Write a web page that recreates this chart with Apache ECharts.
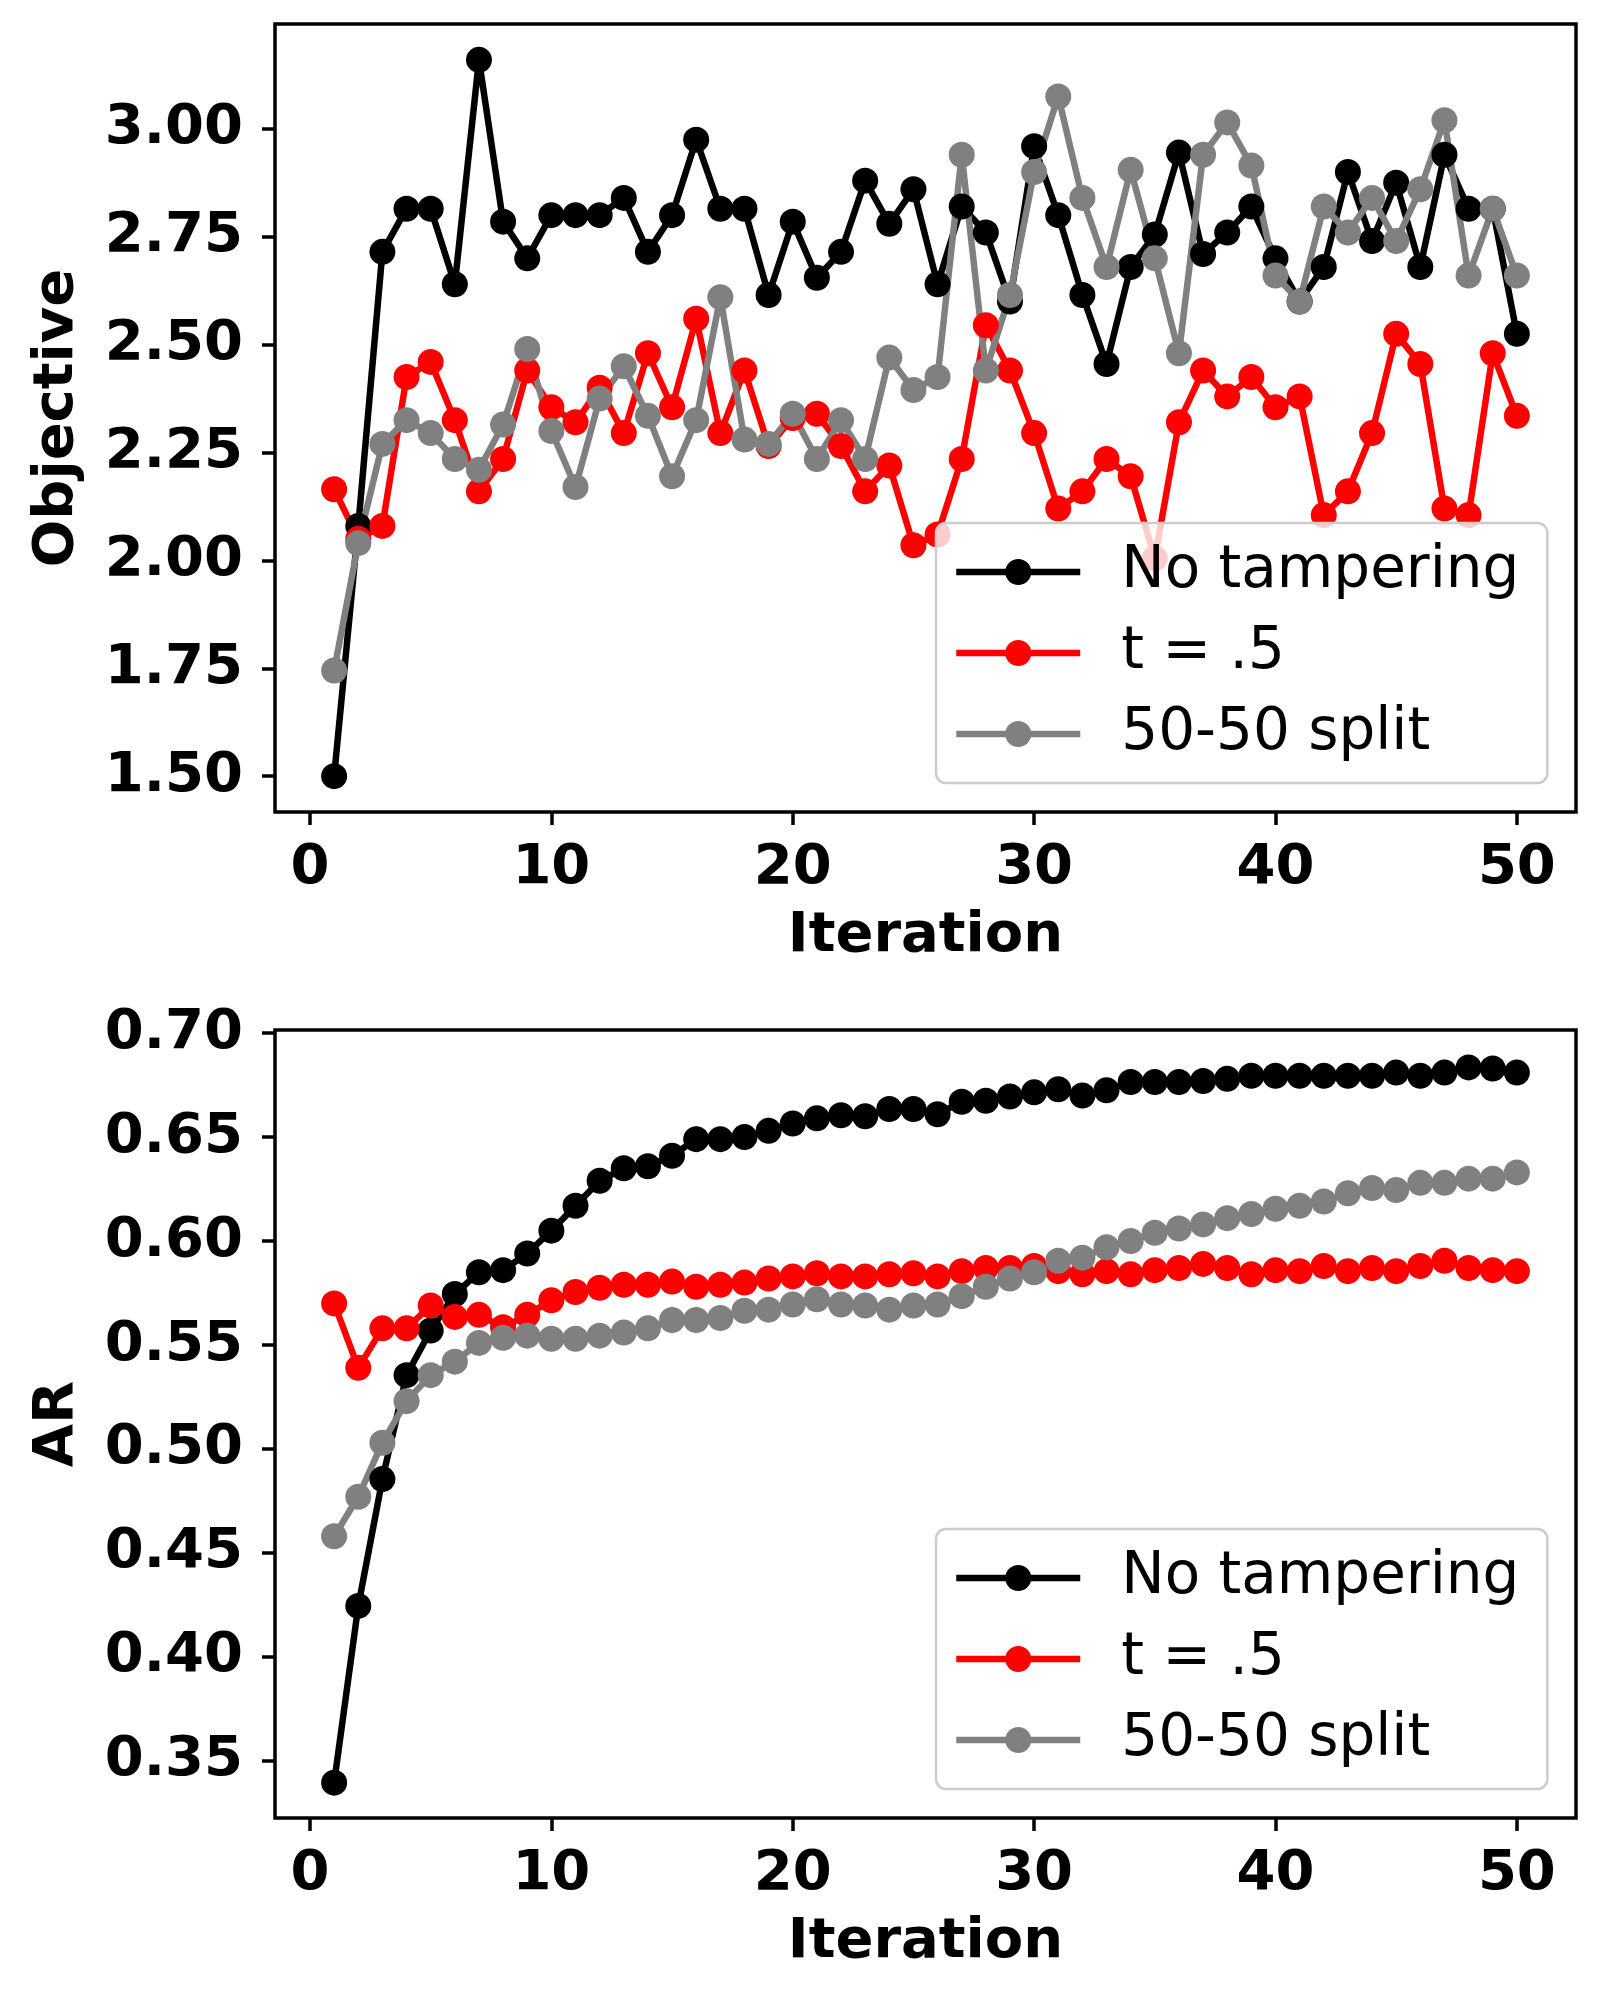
<!DOCTYPE html>
<html><head><meta charset="utf-8">
<script src="https://cdn.jsdelivr.net/npm/echarts@6/dist/echarts.min.js"></script>
<style>html,body{margin:0;padding:0;background:#fff}#c{width:1604px;height:1993px}</style>
</head><body><div id="c"></div>
<script>
const iterations = [1,2,3,4,5,6,7,8,9,10,11,12,13,14,15,16,17,18,19,20,21,22,23,24,25,26,27,28,29,30,31,32,33,34,35,36,37,38,39,40,41,42,43,44,45,46,47,48,49,50];

const seriesNames = ['No tampering', 't = .5', '50-50 split'];
const seriesColors = ['#000000', '#ff0000', '#808080'];

// Top panel: Objective
const objNoTampering = [1.50,2.08,2.715,2.815,2.815,2.64,3.16,2.785,2.70,2.80,2.80,2.80,2.84,2.715,2.80,2.975,2.815,2.815,2.615,2.785,2.655,2.715,2.88,2.78,2.86,2.64,2.82,2.76,2.60,2.96,2.80,2.615,2.455,2.68,2.755,2.945,2.71,2.76,2.82,2.70,2.60,2.68,2.90,2.74,2.875,2.68,2.94,2.815,2.815,2.525];
const objT05 = [2.165,2.05,2.08,2.425,2.46,2.325,2.16,2.235,2.44,2.355,2.32,2.40,2.295,2.48,2.355,2.56,2.295,2.44,2.265,2.33,2.34,2.265,2.16,2.22,2.035,2.06,2.235,2.545,2.44,2.295,2.12,2.16,2.235,2.195,2.005,2.32,2.44,2.38,2.425,2.355,2.38,2.105,2.16,2.295,2.525,2.455,2.12,2.105,2.48,2.335];
const objSplit = [1.745,2.04,2.27,2.325,2.295,2.235,2.21,2.315,2.49,2.30,2.17,2.375,2.45,2.335,2.195,2.325,2.61,2.28,2.27,2.34,2.235,2.325,2.235,2.47,2.395,2.425,2.94,2.44,2.615,2.90,3.075,2.84,2.68,2.905,2.70,2.48,2.94,3.015,2.915,2.66,2.60,2.82,2.76,2.84,2.74,2.86,3.02,2.66,2.815,2.66];

// Bottom panel: AR
const arNoTampering = [0.3395,0.4245,0.4855,0.5355,0.557,0.5745,0.585,0.586,0.594,0.605,0.617,0.629,0.635,0.636,0.641,0.649,0.649,0.650,0.653,0.6565,0.659,0.6605,0.660,0.6635,0.6635,0.661,0.667,0.6675,0.6695,0.6715,0.673,0.670,0.6725,0.6765,0.6765,0.6765,0.677,0.678,0.6795,0.6795,0.6795,0.6795,0.6795,0.6795,0.681,0.6795,0.681,0.6835,0.683,0.681];
const arT05 = [0.570,0.539,0.558,0.558,0.569,0.5635,0.5645,0.5585,0.5645,0.5715,0.5755,0.5775,0.579,0.579,0.5805,0.578,0.579,0.580,0.582,0.583,0.5845,0.583,0.583,0.584,0.5845,0.583,0.5855,0.587,0.587,0.588,0.5855,0.584,0.5855,0.584,0.586,0.587,0.589,0.587,0.584,0.586,0.5855,0.588,0.5855,0.587,0.5855,0.588,0.5905,0.587,0.586,0.5855];
const arSplit = [0.458,0.477,0.503,0.523,0.5355,0.542,0.551,0.5535,0.5545,0.553,0.553,0.5545,0.556,0.558,0.562,0.562,0.563,0.5665,0.567,0.5695,0.572,0.5695,0.569,0.567,0.569,0.5695,0.5735,0.578,0.582,0.585,0.5905,0.592,0.597,0.600,0.604,0.606,0.608,0.611,0.613,0.6155,0.617,0.619,0.623,0.6255,0.6245,0.628,0.628,0.630,0.630,0.633];

const xTicks = [0,10,20,30,40,50];
const objTicks = [1.50,1.75,2.00,2.25,2.50,2.75,3.00];
const arTicks = [0.35,0.40,0.45,0.50,0.55,0.60,0.65,0.70];

const FONT = 'DejaVu Sans';
const boldText = { fontFamily: FONT, fontWeight: 'bold', fontSize: 56, color: '#000' };

function xAxisCfg(gi) {
  return {
    type: 'value', gridIndex: gi, min: -1.45, max: 52.45,
    name: 'Iteration', nameLocation: 'middle', nameGap: 96,
    nameTextStyle: boldText,
    axisLine: { show: false, onZero: false },
    axisTick: { show: true, inside: false, length: 13, customValues: xTicks, lineStyle: { color: '#000', width: 3.5 } },
    axisLabel: Object.assign({ margin: 28, customValues: xTicks, formatter: v => String(v) }, boldText),
    splitLine: { show: false }
  };
}
function yAxisCfg(gi, name, ticks, mn, mx, gap) {
  return {
    type: 'value', gridIndex: gi, min: mn, max: mx,
    name: name, nameLocation: 'middle', nameGap: gap, nameRotate: 90,
    nameTextStyle: boldText,
    axisLine: { show: false, onZero: false },
    axisTick: { show: true, inside: false, length: 13, customValues: ticks, lineStyle: { color: '#000', width: 3.5 } },
    axisLabel: Object.assign({ margin: 32, customValues: ticks, formatter: v => v.toFixed(2) }, boldText),
    splitLine: { show: false }
  };
}
function legendCfg(top) {
  return {
    data: seriesNames, orient: 'vertical', left: 936, top: top,
    itemWidth: 124, itemHeight: 32.5, itemGap: 21,
    padding: [19, 28, 19, 17],
    backgroundColor: 'rgba(255,255,255,0.8)',
    borderColor: '#cccccc', borderWidth: 2.5, borderRadius: 10,
    selectedMode: false,
    lineStyle: { width: 6.5 },
    textStyle: { fontFamily: FONT, fontSize: 58, color: '#000', lineHeight: 60, padding: [0, 0, 0, 36] }
  };
}
function mk(name, color, vals, gi) {
  return {
    type: 'line', name: name, xAxisIndex: gi, yAxisIndex: gi,
    data: iterations.map((x, i) => [x, vals[i]]),
    symbol: 'circle', symbolSize: 26, showAllSymbol: true,
    lineStyle: { color: color, width: 6.5 },
    itemStyle: { color: color, borderWidth: 0 },
    emphasis: { disabled: true },
    silent: true
  };
}

const chart = echarts.init(document.getElementById('c'), null, { renderer: 'canvas' });
chart.setOption({
  animation: false,
  backgroundColor: '#ffffff',
  grid: [
    { left: 275, top: 24, width: 1301, height: 788, show: true, borderColor: '#000', borderWidth: 3.5, backgroundColor: 'transparent' },
    { left: 275, top: 1030, width: 1301, height: 788, show: true, borderColor: '#000', borderWidth: 3.5, backgroundColor: 'transparent' }
  ],
  xAxis: [xAxisCfg(0), xAxisCfg(1)],
  yAxis: [
    yAxisCfg(0, 'Objective', objTicks, 1.417, 3.243, 190),
    yAxisCfg(1, 'AR', arTicks, 0.3225, 0.7015, 190)
  ],
  legend: [legendCfg(523), legendCfg(1529)],
  series: [
    mk(seriesNames[0], seriesColors[0], objNoTampering, 0),
    mk(seriesNames[1], seriesColors[1], objT05, 0),
    mk(seriesNames[2], seriesColors[2], objSplit, 0),
    mk(seriesNames[0], seriesColors[0], arNoTampering, 1),
    mk(seriesNames[1], seriesColors[1], arT05, 1),
    mk(seriesNames[2], seriesColors[2], arSplit, 1)
  ]
});
</script></body></html>
